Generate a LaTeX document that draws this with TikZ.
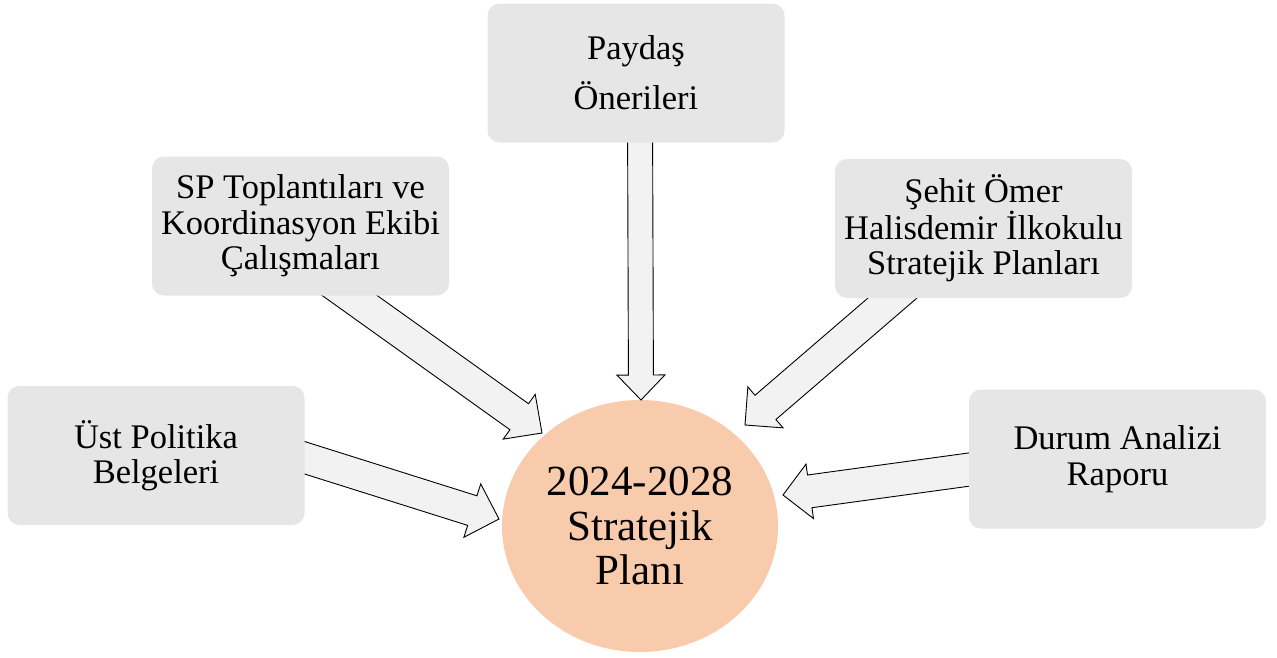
\documentclass[tikz,border=0pt]{standalone}
\usepackage{fontspec}
\setmainfont{Liberation Serif}
\usetikzlibrary{calc,shapes.geometric}
\definecolor{boxgray}{HTML}{E6E6E6}
\definecolor{arrgray}{HTML}{F2F2F2}
\definecolor{peach}{HTML}{F8CBAD}
\newcommand\blockarr[5]{%
  \filldraw[arrowshape]
    ($(#1)!#3!-90:(#2)$) --
    ($($(#2)!#5!(#1)$)!#3!-90:(#2)$) --
    ($($(#2)!#5!(#1)$)!#4!-90:(#2)$) --
    (#2) --
    ($($(#2)!#5!(#1)$)!#4!90:(#2)$) --
    ($($(#2)!#5!(#1)$)!#3!90:(#2)$) --
    ($(#1)!#3!90:(#2)$) -- cycle;}
\begin{document}
\begin{tikzpicture}[x=1pt,y=-1pt,
  srcbox/.style={draw=none,fill=boxgray,rounded corners=12pt,minimum width=297pt,minimum height=139pt,
    align=center,inner sep=0pt,font=\fontsize{34.5}{35.5}\selectfont},
  arrowshape/.style={fill=arrgray,draw=black,line width=0.9pt,line join=miter},
  goal/.style={ellipse,fill=peach,draw=none,minimum width=276pt,minimum height=252pt,inner sep=0pt,
    align=center,font=\fontsize{43}{44.5}\selectfont}]
\useasboundingbox (0,0) rectangle (1277,657);
% central ellipse
\node[goal] (plan) at (640,526) {2024-2028\\Stratejik\\Planı};
% arrow endpoints
\coordinate (s1) at (640,110);  \coordinate (e1) at (641,400);
\coordinate (s2) at (314,270);  \coordinate (e2) at (542,433);
\coordinate (s3) at (925,270);  \coordinate (e3) at (745,425);
\coordinate (s4) at (280,450);  \coordinate (e4) at (499,519);
\coordinate (s5) at (995,466);  \coordinate (e5) at (783,495);
\blockarr{s1}{e1}{12.5pt}{24pt}{25pt}
\blockarr{s2}{e2}{16pt}{27.5pt}{28pt}
\blockarr{s3}{e3}{16pt}{27pt}{27pt}
\blockarr{s4}{e4}{15.5pt}{28pt}{28pt}
\blockarr{s5}{e5}{16.5pt}{27.5pt}{27pt}
% source boxes
\node[srcbox,font=\fontsize{34.5}{50}\selectfont] (payd) at (636,73) {Paydaş\\Önerileri};
\node[srcbox] (sp) at (300.5,226) {SP Toplantıları ve\\Koordinasyon Ekibi\\Çalışmaları};
\node[srcbox] (sehit) at (983.5,228.5) {Şehit Ömer\\Halisdemir İlkokulu\\Stratejik Planları};
\node[srcbox] (ust) at (156,455.5) {Üst Politika\\Belgeleri};
\node[srcbox] (durum) at (1117.5,459) {Durum Analizi\\Raporu};
\end{tikzpicture}
\end{document}
